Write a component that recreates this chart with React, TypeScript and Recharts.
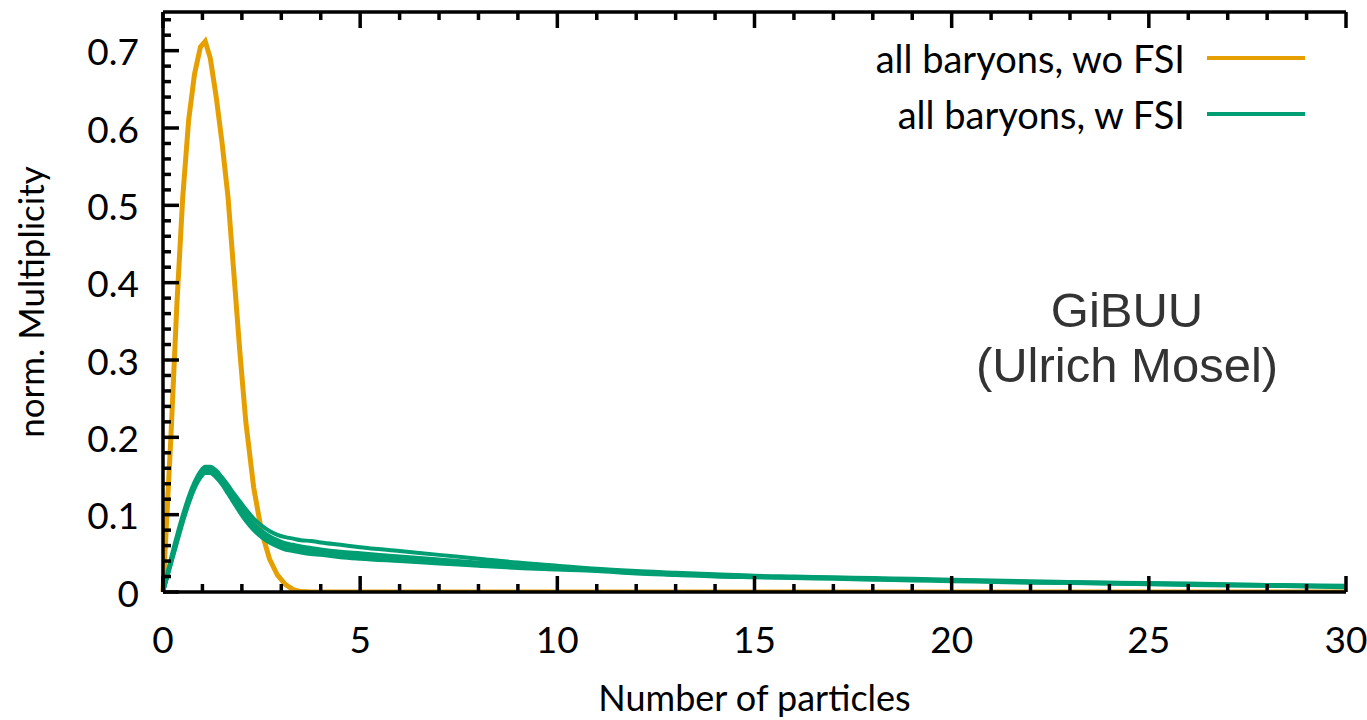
import { LineChart, Line, XAxis, YAxis } from "recharts";

const FONT = "Lato, 'DejaVu Sans', sans-serif";
const ORANGE = "#E69F00";
const GREEN = "#009E73";

// number of particles (shared x grid)
const xs = [
  0, 0.1, 0.2, 0.35, 0.5, 0.65, 0.8, 0.95, 1.07, 1.2, 1.35, 1.5, 1.65, 1.8, 1.95, 2.1, 2.3, 2.5, 2.7, 2.9,
  3.1, 3.3, 3.5, 3.75, 4, 4.5, 5, 6, 7, 8, 9, 10, 11, 12, 13, 14, 15, 16, 17, 18, 19, 20, 22, 24, 26, 28, 30,
];

// all baryons, wo FSI
const woFSI = [
  0, 0.1, 0.2, 0.37, 0.51, 0.61, 0.67, 0.705, 0.712, 0.69, 0.64, 0.58, 0.51, 0.41, 0.31, 0.22, 0.135, 0.078,
  0.043, 0.022, 0.01, 0.003, 0.0005, 0, 0, 0, 0, 0, 0, 0, 0, 0, 0, 0, 0, 0, 0, 0, 0, 0, 0, 0, 0, 0, 0, 0, 0,
];

// all baryons, w FSI (several runs drawn as a band)
const wFSI1 = [
  0, 0.022, 0.043, 0.072, 0.099, 0.123, 0.142, 0.156, 0.162, 0.162, 0.157, 0.148, 0.138, 0.127, 0.117, 0.107,
  0.095, 0.086, 0.079, 0.074, 0.071, 0.069, 0.067, 0.066, 0.064, 0.061, 0.058, 0.053, 0.048, 0.043, 0.038, 0.034,
  0.03, 0.027, 0.025, 0.023, 0.021, 0.02, 0.019, 0.018, 0.017, 0.016, 0.014, 0.012, 0.011, 0.009, 0.008,
];
const wFSI2 = [
  0, 0.02, 0.04, 0.068, 0.096, 0.12, 0.14, 0.154, 0.16, 0.16, 0.154, 0.145, 0.134, 0.122, 0.11, 0.1, 0.088,
  0.079, 0.072, 0.067, 0.063, 0.061, 0.059, 0.057, 0.055, 0.052, 0.05, 0.046, 0.042, 0.038, 0.035, 0.032, 0.029,
  0.026, 0.024, 0.022, 0.02, 0.019, 0.018, 0.017, 0.016, 0.015, 0.013, 0.012, 0.01, 0.009, 0.007,
];
const wFSI3 = [
  0, 0.019, 0.038, 0.066, 0.093, 0.117, 0.137, 0.151, 0.157, 0.157, 0.151, 0.142, 0.131, 0.119, 0.107, 0.096,
  0.084, 0.075, 0.068, 0.063, 0.059, 0.057, 0.055, 0.053, 0.051, 0.049, 0.047, 0.043, 0.04, 0.036, 0.033, 0.03,
  0.028, 0.025, 0.023, 0.021, 0.02, 0.019, 0.018, 0.017, 0.016, 0.015, 0.013, 0.011, 0.01, 0.008, 0.007,
];
const wFSI4 = [
  0, 0.018, 0.036, 0.063, 0.09, 0.114, 0.134, 0.148, 0.154, 0.154, 0.148, 0.139, 0.127, 0.115, 0.103, 0.092,
  0.08, 0.071, 0.064, 0.059, 0.055, 0.053, 0.051, 0.049, 0.048, 0.045, 0.043, 0.04, 0.037, 0.034, 0.031, 0.029,
  0.027, 0.024, 0.022, 0.02, 0.019, 0.018, 0.017, 0.016, 0.015, 0.014, 0.012, 0.011, 0.009, 0.008, 0.006,
];

const xMajor = [0, 5, 10, 15, 20, 25, 30];
const yMajor = [0, 0.1, 0.2, 0.3, 0.4, 0.5, 0.6, 0.7];
const xTicks = Array.from({ length: 31 }, (_, i) => i);
const yTicks = Array.from({ length: 38 }, (_, i) => Math.round(i * 2) / 100);

const rows = xs.map((x, i) => ({
  x,
  wo: woFSI[i],
  g1: wFSI1[i],
  g2: wFSI2[i],
  g3: wFSI3[i],
  g4: wFSI4[i],
}));

const isXMajor = (v: number) => xMajor.includes(v);
const isYMajor = (v: number) => yMajor.some((m) => Math.abs(m - v) < 1e-6);

const TICK_W = 3.5;

function BottomTick({ x, y, payload }: any) {
  const v = payload.value;
  const major = isXMajor(v);
  return (
    <g>
      <line x1={x} x2={x} y1={y} y2={y - (major ? 16 : 8)} stroke="#000" strokeWidth={TICK_W} />
      {major && (
        <text x={x} y={y + 46} textAnchor="middle" dominantBaseline="central" fontSize={37} fontFamily={FONT} fill="#000">
          {v}
        </text>
      )}
    </g>
  );
}

function TopTick({ x, y, payload }: any) {
  const major = isXMajor(payload.value);
  return <line x1={x} x2={x} y1={y} y2={y + (major ? 16 : 8)} stroke="#000" strokeWidth={TICK_W} />;
}

function LeftTick({ x, y, payload }: any) {
  const v = payload.value;
  const major = isYMajor(v);
  return (
    <g>
      <line x1={x} x2={x + (major ? 16 : 8)} y1={y} y2={y} stroke="#000" strokeWidth={TICK_W} />
      {major && (
        <text x={x - 24} y={y} textAnchor="end" dominantBaseline="central" fontSize={37} fontFamily={FONT} fill="#000">
          {v === 0 ? "0" : v.toFixed(1)}
        </text>
      )}
    </g>
  );
}

function RightTick({ x, y, payload }: any) {
  const major = isYMajor(payload.value);
  return <line x1={x} x2={x - (major ? 16 : 8)} y1={y} y2={y} stroke="#000" strokeWidth={TICK_W} />;
}

const axisLine = { stroke: "#000", strokeWidth: 3.5 };

const keyItems = [
  { name: "all baryons, wo FSI", color: ORANGE },
  { name: "all baryons, w FSI", color: GREEN },
];

export default function App() {
  return (
    <div style={{ position: "absolute", left: 0, top: 0, width: 1367, height: 720, background: "#fff" }}>
      <LineChart width={1367} height={720} data={rows} margin={{ top: 11, right: 21, bottom: 0, left: 0 }}>
        <XAxis
          xAxisId="b"
          dataKey="x"
          type="number"
          domain={[0, 30]}
          ticks={xTicks}
          interval={0}
          height={128}
          tickSize={0}
          tickMargin={0}
          tickLine={false}
          axisLine={axisLine}
          tick={<BottomTick />}
          label={{
            content: ({ viewBox }: any) => (
              <text
                x={viewBox.x + viewBox.width / 2}
                y={viewBox.y + 105}
                textAnchor="middle"
                dominantBaseline="central"
                fontSize={36}
                fontFamily={FONT}
                fill="#000"
              >
                Number of particles
              </text>
            ),
          }}
        />
        <XAxis
          xAxisId="t"
          orientation="top"
          dataKey="x"
          type="number"
          domain={[0, 30]}
          ticks={xTicks}
          interval={0}
          height={1}
          tickSize={0}
          tickMargin={0}
          tickLine={false}
          axisLine={axisLine}
          tick={<TopTick />}
        />
        <YAxis
          yAxisId="l"
          type="number"
          domain={[0, 0.75]}
          allowDataOverflow
          ticks={yTicks}
          interval={0}
          width={163}
          tickSize={0}
          tickMargin={0}
          tickLine={false}
          axisLine={axisLine}
          tick={<LeftTick />}
          label={{
            content: ({ viewBox }: any) => {
              const cx = viewBox.x + 30;
              const cy = viewBox.y + viewBox.height / 2;
              return (
                <text
                  x={cx}
                  y={cy}
                  transform={`rotate(-90, ${cx}, ${cy})`}
                  textAnchor="middle"
                  dominantBaseline="central"
                  fontSize={35}
                  fontFamily={FONT}
                  fill="#000"
                >
                  norm. Multiplicity
                </text>
              );
            },
          }}
        />
        <YAxis
          yAxisId="r"
          orientation="right"
          type="number"
          domain={[0, 0.75]}
          allowDataOverflow
          ticks={yTicks}
          interval={0}
          width={0}
          tickSize={0}
          tickMargin={0}
          tickLine={false}
          axisLine={axisLine}
          tick={<RightTick />}
        />
        <Line xAxisId="b" yAxisId="l" type="linear" dataKey="wo" stroke={ORANGE} strokeWidth={5} dot={false} isAnimationActive={false} />
        <Line xAxisId="b" yAxisId="l" type="monotone" dataKey="g1" stroke={GREEN} strokeWidth={4} dot={false} isAnimationActive={false} />
        <Line xAxisId="b" yAxisId="l" type="monotone" dataKey="g2" stroke={GREEN} strokeWidth={4} dot={false} isAnimationActive={false} />
        <Line xAxisId="b" yAxisId="l" type="monotone" dataKey="g3" stroke={GREEN} strokeWidth={4} dot={false} isAnimationActive={false} />
        <Line xAxisId="t" yAxisId="r" type="monotone" dataKey="g4" stroke={GREEN} strokeWidth={4} dot={false} isAnimationActive={false} />
      </LineChart>

      {/* key, top right */}
      <div style={{ position: "absolute", top: 30, right: 62, fontFamily: FONT, fontSize: 38, color: "#000" }}>
        {keyItems.map((e) => (
          <div key={e.name} style={{ display: "flex", alignItems: "center", justifyContent: "flex-end", height: 56 }}>
            <span style={{ whiteSpace: "nowrap", lineHeight: "56px" }}>{e.name}</span>
            <svg width={98} height={10} style={{ marginLeft: 22 }}>
              <line x1={0} x2={98} y1={5} y2={5} stroke={e.color} strokeWidth={4} />
            </svg>
          </div>
        ))}
      </div>

      <div
        style={{
          position: "absolute",
          left: 927,
          top: 283,
          width: 400,
          textAlign: "center",
          fontFamily: "'Liberation Sans', Arial, sans-serif",
          fontSize: 49,
          lineHeight: "55px",
          color: "#333",
        }}
      >
        GiBUU
        <br />
        (Ulrich Mosel)
      </div>
    </div>
  );
}
